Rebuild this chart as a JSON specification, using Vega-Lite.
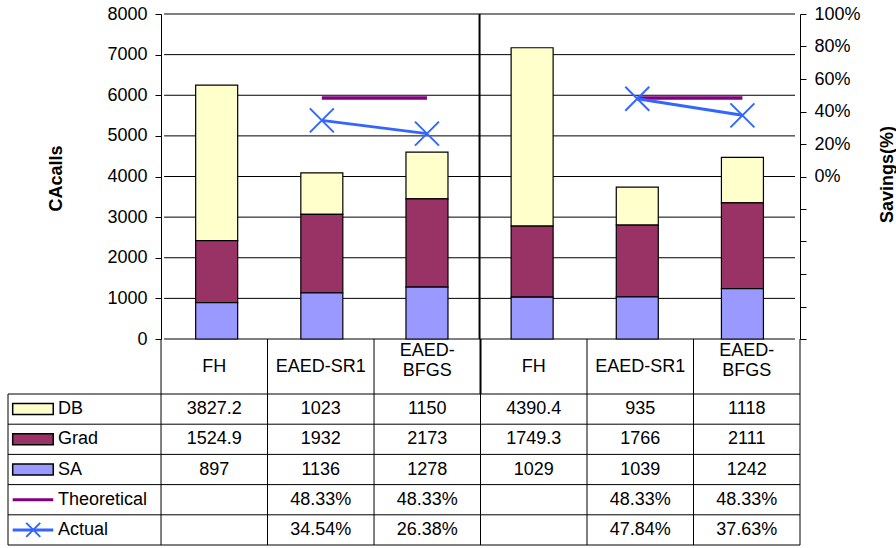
{
  "$schema": "https://vega.github.io/schema/vega-lite/v6.json",
  "padding": {"left": 7, "top": 5, "right": 0, "bottom": 3},
  "spacing": 0,
  "bounds": "flush",
  "config": {
    "view": {"stroke": null},
    "font": "Liberation Sans",
    "text": {"font": "Liberation Sans", "fontSize": 18, "color": "#000"},
    "axis": {"labelFont": "Liberation Sans", "titleFont": "Liberation Sans", "labelFontSize": 18, "titleFontSize": 18, "labelColor": "#000", "titleColor": "#000", "domainColor": "#000", "tickColor": "#000", "grid": false, "titleFontWeight": "bold", "labelOverlap": false}
  },
  "datasets": {
    "calls": [
      {"col": 0, "method": "FH", "series": "DB", "value": 3827.2},
      {"col": 0, "method": "FH", "series": "Grad", "value": 1524.9},
      {"col": 0, "method": "FH", "series": "SA", "value": 897},
      {"col": 1, "method": "EAED-SR1", "series": "DB", "value": 1023},
      {"col": 1, "method": "EAED-SR1", "series": "Grad", "value": 1932},
      {"col": 1, "method": "EAED-SR1", "series": "SA", "value": 1136},
      {"col": 2, "method": "EAED-BFGS", "series": "DB", "value": 1150},
      {"col": 2, "method": "EAED-BFGS", "series": "Grad", "value": 2173},
      {"col": 2, "method": "EAED-BFGS", "series": "SA", "value": 1278},
      {"col": 3, "method": "FH", "series": "DB", "value": 4390.4},
      {"col": 3, "method": "FH", "series": "Grad", "value": 1749.3},
      {"col": 3, "method": "FH", "series": "SA", "value": 1029},
      {"col": 4, "method": "EAED-SR1", "series": "DB", "value": 935},
      {"col": 4, "method": "EAED-SR1", "series": "Grad", "value": 1766},
      {"col": 4, "method": "EAED-SR1", "series": "SA", "value": 1039},
      {"col": 5, "method": "EAED-BFGS", "series": "DB", "value": 1118},
      {"col": 5, "method": "EAED-BFGS", "series": "Grad", "value": 2111},
      {"col": 5, "method": "EAED-BFGS", "series": "SA", "value": 1242}
    ],
    "savings": [
      {"col": 1, "method": "EAED-SR1", "group": "A", "series": "Theoretical", "value": 0.4833},
      {"col": 2, "method": "EAED-BFGS", "group": "A", "series": "Theoretical", "value": 0.4833},
      {"col": 4, "method": "EAED-SR1", "group": "B", "series": "Theoretical", "value": 0.4833},
      {"col": 5, "method": "EAED-BFGS", "group": "B", "series": "Theoretical", "value": 0.4833},
      {"col": 1, "method": "EAED-SR1", "group": "A", "series": "Actual", "value": 0.3454},
      {"col": 2, "method": "EAED-BFGS", "group": "A", "series": "Actual", "value": 0.2638},
      {"col": 4, "method": "EAED-SR1", "group": "B", "series": "Actual", "value": 0.4784},
      {"col": 5, "method": "EAED-BFGS", "group": "B", "series": "Actual", "value": 0.3763}
    ],
    "rows": [
      {"series": "DB"}, {"series": "Grad"}, {"series": "SA"}, {"series": "Theoretical"}, {"series": "Actual"}
    ],
    "ticks": [
      {"v": 0}, {"v": 1000}, {"v": 2000}, {"v": 3000}, {"v": 4000}, {"v": 5000}, {"v": 6000}, {"v": 7000}, {"v": 8000}
    ]
  },
  "vconcat": [
    {
      "width": 792,
      "height": 325,
      "layer": [
        {
          "layer": [
            {
              "data": {"name": "ticks"},
              "mark": {"type": "rule", "color": "#000", "strokeWidth": 1},
              "encoding": {
                "x": {"datum": -0.5, "type": "quantitative", "scale": {"domain": [-1.937, 5.5], "nice": false, "zero": false}, "axis": null},
                "x2": {"datum": 5.5},
                "y": {"field": "v", "type": "quantitative", "scale": {"domain": [0, 8000], "nice": false, "zero": false},
                  "axis": {"orient": "left", "offset": -153, "values": [0, 1000, 2000, 3000, 4000, 5000, 6000, 7000, 8000], "tickCount": 20, "format": "d", "tickSize": 6, "labelPadding": 8, "title": "CAcalls", "titleAngle": -90, "titleX": -105, "titleY": 164, "titleBaseline": "middle", "titleAlign": "center"}}
              }
            },
            {
              "data": {"name": "calls"},
              "mark": {"type": "bar", "orient": "vertical", "width": 42, "stroke": "#000", "strokeWidth": 1.2},
              "encoding": {
                "x": {"field": "col", "type": "quantitative"},
                "y": {"field": "value", "type": "quantitative", "stack": "zero", "title": "CAcalls"},
                "color": {"field": "series", "type": "nominal", "scale": {"domain": ["DB", "Grad", "SA", "Theoretical", "Actual"], "range": ["#FFFFCC", "#993366", "#9999FF", "#800080", "#3366FF"]}, "legend": null},
                "order": {"field": "series", "sort": "descending"}
              }
            },
            {
              "data": {"values": [{}]},
              "mark": {"type": "rule", "color": "#000", "strokeWidth": 2},
              "encoding": {
                "x": {"datum": 2.5, "type": "quantitative"},
                "y": {"datum": 0, "type": "quantitative"},
                "y2": {"datum": 8000}
              }
            }
          ]
        },
        {
          "data": {"name": "savings"},
          "layer": [
            {
              "transform": [{"filter": "datum.series === 'Theoretical'"}],
              "mark": {"type": "line", "strokeWidth": 3.5},
              "encoding": {
                "x": {"field": "col", "type": "quantitative"},
                "y": {"field": "value", "type": "quantitative", "scale": {"domain": [-1, 1], "nice": false, "zero": false},
                  "axis": {"orient": "right", "values": [-1, -0.8, -0.6, -0.4, -0.2, 0, 0.2, 0.4, 0.6, 0.8, 1], "tickCount": 20, "format": ".0%", "labelColor": {"condition": {"test": "datum.value < 0", "value": "transparent"}, "value": "#000"}, "labelOverlap": false, "tickSize": 6, "labelPadding": 8, "title": "Savings(%)", "titleAngle": -90, "titleX": 87, "titleY": 160, "titleBaseline": "middle", "titleAlign": "center"}},
                "detail": {"field": "group"},
                "color": {"field": "series", "type": "nominal", "scale": {"domain": ["DB", "Grad", "SA", "Theoretical", "Actual"], "range": ["#FFFFCC", "#993366", "#9999FF", "#800080", "#3366FF"]}, "legend": null}
              }
            },
            {
              "transform": [{"filter": "datum.series === 'Actual'"}],
              "mark": {"type": "line", "strokeWidth": 3},
              "encoding": {
                "x": {"field": "col", "type": "quantitative"},
                "y": {"field": "value", "type": "quantitative"},
                "detail": {"field": "group"},
                "color": {"field": "series", "type": "nominal", "legend": null}
              }
            },
            {
              "transform": [{"filter": "datum.series === 'Actual'"}],
              "mark": {"type": "point", "shape": "M-1,-1L1,1M-1,1L1,-1", "filled": false, "strokeWidth": 2, "size": 576, "opacity": 1},
              "encoding": {
                "x": {"field": "col", "type": "quantitative"},
                "y": {"field": "value", "type": "quantitative"},
                "color": {"field": "series", "type": "nominal", "legend": null}
              }
            }
          ]
        }
      ],
      "resolve": {"scale": {"y": "independent"}, "axis": {"y": "independent"}}
    },
    {
      "width": 792,
      "height": 55,
      "data": {"name": "calls"},
      "transform": [
        {"filter": "datum.series === 'SA'"}
      ],
      "layer": [
        {
          "mark": {"type": "rule", "xOffset": -53.25, "color": "#000"},
          "encoding": {
            "x": {"field": "col", "type": "quantitative", "scale": {"domain": [-1.937, 5.5], "nice": false, "zero": false}, "axis": null},
            "strokeWidth": {"condition": {"test": "datum.col === 3", "value": 2}, "value": 1}
          }
        },
        {
          "transform": [{"filter": "datum.col === 5"}],
          "mark": {"type": "rule", "xOffset": 53.25, "color": "#000"},
          "encoding": {"x": {"field": "col", "type": "quantitative"}}
        },
        {
          "transform": [{"filter": "datum.method !== 'EAED-BFGS'"}],
          "mark": {"type": "text", "fontSize": 18},
          "encoding": {
            "x": {"field": "col", "type": "quantitative"},
            "text": {"field": "method"}
          }
        },
        {
          "transform": [
            {"filter": "datum.method === 'EAED-BFGS'"},
            {"calculate": "'EAED-\\nBFGS'", "as": "label"}
          ],
          "mark": {"type": "text", "fontSize": 18, "lineBreak": "\n", "lineHeight": 20, "dy": -16},
          "encoding": {
            "x": {"field": "col", "type": "quantitative"},
            "text": {"field": "label"}
          }
        }
      ]
    },
    {
      "width": 792,
      "height": 151,
      "layer": [
        {
          "data": {"name": "rows"},
          "mark": {"type": "rule", "color": "#000"},
          "encoding": {
            "x": {"datum": -1.937, "type": "quantitative", "scale": {"domain": [-1.937, 5.5], "nice": false, "zero": false}, "axis": null},
            "x2": {"datum": 5.5},
            "y": {"field": "series", "type": "nominal", "bandPosition": 0, "scale": {"domain": ["DB", "Grad", "SA", "Theoretical", "Actual"], "paddingInner": 0, "paddingOuter": 0}, "axis": null}
          }
        },
        {
          "data": {"name": "rows"},
          "transform": [{"filter": "datum.series === 'Actual'"}],
          "mark": {"type": "rule", "color": "#000"},
          "encoding": {
            "x": {"datum": -1.937, "type": "quantitative"},
            "x2": {"datum": 5.5},
            "y": {"field": "series", "type": "nominal", "bandPosition": 1}
          }
        },
        {
          "data": {"name": "calls"},
          "transform": [{"filter": "datum.series === 'SA'"}],
          "mark": {"type": "rule", "xOffset": -53.25, "color": "#000"},
          "encoding": {"x": {"field": "col", "type": "quantitative"}}
        },
        {
          "data": {"name": "calls"},
          "transform": [{"filter": "datum.series === 'SA' && datum.col === 5"}],
          "mark": {"type": "rule", "xOffset": 53.25, "color": "#000"},
          "encoding": {"x": {"field": "col", "type": "quantitative"}}
        },
        {
          "data": {"values": [{}]},
          "mark": {"type": "rule", "color": "#000"},
          "encoding": {"x": {"datum": -1.937, "type": "quantitative"}}
        },
        {
          "data": {"name": "calls"},
          "mark": {"type": "text", "fontSize": 18},
          "encoding": {
            "x": {"field": "col", "type": "quantitative"},
            "y": {"field": "series", "type": "nominal"},
            "text": {"field": "value", "type": "quantitative", "format": "~f"}
          }
        },
        {
          "data": {"name": "savings"},
          "mark": {"type": "text", "fontSize": 18},
          "encoding": {
            "x": {"field": "col", "type": "quantitative"},
            "y": {"field": "series", "type": "nominal"},
            "text": {"field": "value", "type": "quantitative", "format": ".2%"}
          }
        },
        {
          "data": {"name": "rows"},
          "mark": {"type": "text", "fontSize": 18, "align": "left"},
          "encoding": {
            "x": {"datum": -1.467, "type": "quantitative"},
            "y": {"field": "series", "type": "nominal"},
            "text": {"field": "series"}
          }
        },
        {
          "data": {"name": "rows"},
          "transform": [{"filter": {"field": "series", "oneOf": ["DB", "Grad", "SA"]}}],
          "mark": {"type": "bar", "orient": "horizontal", "height": 11, "stroke": "#000", "strokeWidth": 1.5},
          "encoding": {
            "x": {"datum": -1.893, "type": "quantitative"},
            "x2": {"datum": -1.512},
            "y": {"field": "series", "type": "nominal"},
            "color": {"field": "series", "type": "nominal", "scale": {"domain": ["DB", "Grad", "SA", "Theoretical", "Actual"], "range": ["#FFFFCC", "#993366", "#9999FF", "#800080", "#3366FF"]}, "legend": null}
          }
        },
        {
          "data": {"name": "rows"},
          "transform": [{"filter": {"field": "series", "oneOf": ["Theoretical", "Actual"]}}],
          "mark": {"type": "rule", "strokeWidth": 3},
          "encoding": {
            "x": {"datum": -1.893, "type": "quantitative"},
            "x2": {"datum": -1.512},
            "y": {"field": "series", "type": "nominal"},
            "color": {"field": "series", "type": "nominal", "legend": null}
          }
        },
        {
          "data": {"name": "rows"},
          "transform": [{"filter": "datum.series === 'Actual'"}],
          "mark": {"type": "point", "shape": "M-1,-1L1,1M-1,1L1,-1", "filled": false, "strokeWidth": 2, "size": 196, "opacity": 1},
          "encoding": {
            "x": {"datum": -1.70, "type": "quantitative"},
            "y": {"field": "series", "type": "nominal"},
            "color": {"field": "series", "type": "nominal", "legend": null}
          }
        }
      ]
    }
  ]
}
